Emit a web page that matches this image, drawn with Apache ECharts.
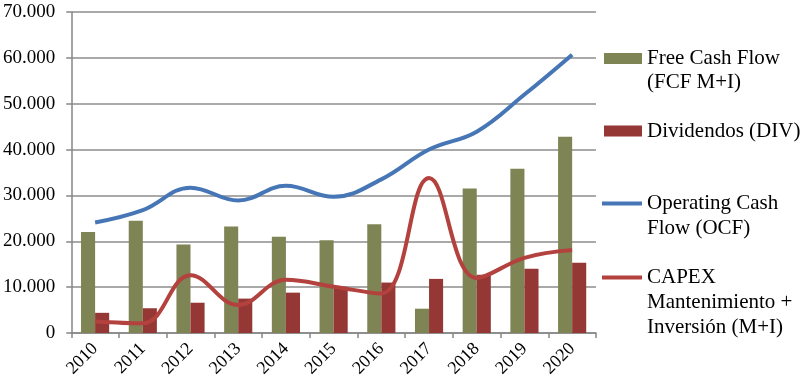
<!DOCTYPE html>
<html>
<head>
<meta charset="utf-8">
<script src="https://cdn.jsdelivr.net/npm/echarts@6/dist/echarts.min.js"></script>
<style>html,body{margin:0;padding:0;background:#fff}#c{width:804px;height:392px}</style>
</head>
<body>
<div id="c"></div>
<script>
var years = ['2010','2011','2012','2013','2014','2015','2016','2017','2018','2019','2020'];
var fcf = [22000, 24500, 19300, 23200, 21000, 20200, 23700, 5300, 31500, 35800, 42800];
var div = [4400, 5400, 6600, 7500, 8800, 10100, 11000, 11800, 12700, 14000, 15300];
var ocf = [24100, 26800, 31700, 28900, 32100, 29700, 33500, 40000, 43900, 52000, 60700];
var capex = [2500, 2100, 12600, 6100, 11600, 10100, 8600, 33800, 12000, 16400, 18100];
var names = ['Free Cash Flow', 'Dividendos (DIV)', 'Operating Cash', 'CAPEX'];
var extraLines = [
  ['(FCF M+I)'],
  [],
  ['Flow (OCF)'],
  ['Mantenimiento +', 'Inversión (M+I)']
];

var FONT = 'Liberation Serif';
var cGreen = '#7F8454', cRed = '#953735', cBlue = '#4676B5', cRedL = '#B3413D';

function fmt(v){ return String(v).replace(/\B(?=(\d{3})+(?!\d))/g, '.'); }

var chart = echarts.init(document.getElementById('c'));
var legendCenters = [58.5, 131, 203.5, 277.5];
var extraCenters = [[82.5], [], [228.5], [302, 327]];
var legends = names.map(function(n, i){
  var isBar = i < 2;
  return {
    show: true,
    data: [n],
    left: isBar ? 604 : 602,
    top: legendCenters[i] - 10.5,
    orient: 'vertical',
    icon: 'rect',
    itemWidth: isBar ? 38 : 40,
    itemHeight: isBar ? 11 : 4,
    itemGap: 0,
    padding: 0,
    textStyle: {fontFamily: FONT, fontSize: 21, lineHeight: 21, color: '#000'},
    selectedMode: false
  };
});
var graphics = [];
extraLines.forEach(function(lines, i){
  lines.forEach(function(t, j){
    graphics.push({
      type: 'text', x: 647, y: extraCenters[i][j],
      style: {text: t, font: '21px "' + FONT + '"', fill: '#000', verticalAlign: 'middle', align: 'left'}
    });
  });
});

chart.setOption({
  animation: false,
  backgroundColor: '#fff',
  grid: {left: 71, right: 208, top: 12, bottom: 59},
  legend: legends,
  graphic: graphics,
  xAxis: {
    type: 'category',
    data: years,
    boundaryGap: true,
    axisLine: {lineStyle: {color: '#868686', width: 1.5}},
    axisTick: {show: true, length: 5, lineStyle: {color: '#868686', width: 1.5}},
    axisLabel: {rotate: 45, fontFamily: FONT, fontSize: 18, color: '#000', margin: 13}
  },
  yAxis: {
    type: 'value',
    min: 0, max: 70000, interval: 10000,
    axisLine: {show: true, lineStyle: {color: '#868686', width: 1.5}},
    axisTick: {show: true, length: 5, lineStyle: {color: '#868686', width: 1.5}},
    splitLine: {lineStyle: {color: '#8C8C8C', width: 1.5}},
    axisLabel: {fontFamily: FONT, fontSize: 19, color: '#000', margin: 16, formatter: function(v){ return fmt(v); }}
  },
  series: [
    {name: names[0], type: 'bar', data: fcf, itemStyle: {color: cGreen}, barGap: '0%', barCategoryGap: '41%'},
    {name: names[1], type: 'bar', data: div, itemStyle: {color: cRed}, barGap: '0%', barCategoryGap: '41%'},
    {name: names[2], type: 'line', data: ocf, smooth: 0.4, showSymbol: false, symbol: 'none', lineStyle: {color: cBlue, width: 4}, itemStyle: {color: cBlue}},
    {name: names[3], type: 'line', data: capex, smooth: 0.4, showSymbol: false, symbol: 'none', lineStyle: {color: cRedL, width: 4}, itemStyle: {color: cRedL}}
  ]
});
</script>
</body>
</html>
